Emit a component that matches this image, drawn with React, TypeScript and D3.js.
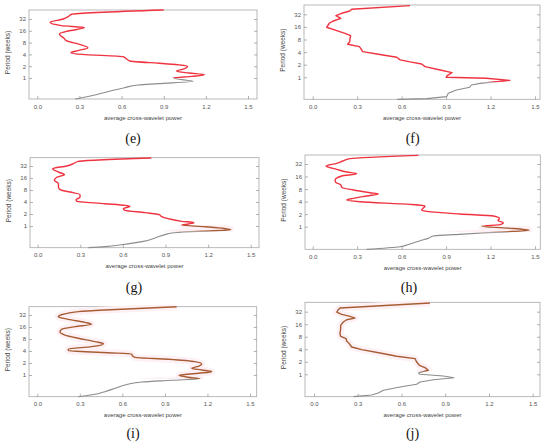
import React, { useEffect, useRef } from 'react';
import * as d3 from 'd3';

const RED = '#ef3340';
const BROWN = '#a85c33';
const GREY = '#8c8c8c';
const HALO = '#fdf1f5';

const periodTicks = [1, 2, 4, 8, 16, 32];
const powerTicks = [0, 0.3, 0.6, 0.9, 1.2, 1.5];
const xTitle = 'average cross-wavelet power';
const yTitle = 'Period (weeks)';

// log2 of the period in weeks, read top to bottom, with the power at each
const logPeriodE = [5.76, 5.4, 5.2, 5.0, 4.72, 4.44, 4.27, 3.98, 3.73, 3.36, 3.14, 2.85, 2.57, 2.32, 2.15, 2.0, 1.81, 1.67, 1.44, 1.21, 0.99, 0.76, 0.59, 0.42, 0.28, 0.14, 0.0, -0.14, -0.28, -0.48, -0.59, -0.82, -1.1, -1.44, -1.78];
const powerE = [0.9, 0.245, 0.22, 0.185, 0.09, 0.17, 0.335, 0.22, 0.157, 0.19, 0.21, 0.3, 0.36, 0.29, 0.24, 0.32, 0.61, 0.63, 0.66, 0.91, 1.07, 1.04, 0.99, 1.08, 1.19, 1.1, 0.97, 1.03, 1.11, 0.86, 0.72, 0.62, 0.52, 0.41, 0.27];

const logPeriodF = [5.69, 5.4, 5.26, 5.08, 4.89, 4.68, 4.47, 4.29, 3.97, 3.7, 3.49, 3.31, 3.1, 2.83, 2.62, 2.43, 2.25, 2.04, 1.83, 1.59, 1.38, 1.22, 1.06, 0.85, 0.58, 0.37, 0.16, 0.0, -0.08, -0.24, -0.37, -0.48, -0.61, -0.79, -1.01, -1.27, -1.53, -1.69, -1.75];
const powerF = [0.657, 0.263, 0.25, 0.196, 0.157, 0.189, 0.14, 0.112, 0.094, 0.162, 0.218, 0.256, 0.252, 0.25, 0.236, 0.315, 0.326, 0.337, 0.443, 0.567, 0.59, 0.657, 0.735, 0.758, 0.86, 0.94, 0.91, 0.9, 1.17, 1.33, 1.22, 1.13, 1.07, 1.06, 0.97, 0.915, 0.904, 0.77, 0.57];

const logPeriodG = [5.67, 5.39, 5.19, 5.0, 4.78, 4.5, 4.28, 4.06, 3.81, 3.53, 3.25, 3.03, 2.83, 2.61, 2.39, 2.19, 2.06, 1.86, 1.72, 1.64, 1.44, 1.31, 1.11, 0.94, 0.81, 0.61, 0.39, 0.28, 0.17, 0.08, -0.06, -0.31, -0.44, -0.58, -0.72, -1.0, -1.28, -1.56, -1.72, -1.8];
const powerG = [0.8, 0.286, 0.251, 0.204, 0.106, 0.146, 0.188, 0.134, 0.117, 0.146, 0.146, 0.157, 0.228, 0.298, 0.298, 0.27, 0.275, 0.474, 0.615, 0.65, 0.603, 0.615, 0.756, 0.857, 0.87, 0.92, 1.014, 1.1, 1.06, 1.014, 1.18, 1.36, 1.155, 0.944, 0.897, 0.826, 0.744, 0.59, 0.474, 0.357];

const logPeriodH = [5.69, 5.43, 5.24, 5.05, 4.84, 4.57, 4.36, 4.23, 4.04, 3.72, 3.51, 3.35, 3.14, 2.93, 2.71, 2.61, 2.45, 2.26, 2.13, 1.99, 1.78, 1.65, 1.49, 1.33, 1.2, 1.01, 0.85, 0.66, 0.48, 0.32, 0.16, 0.03, -0.11, -0.29, -0.43, -0.59, -0.74, -0.93, -1.12, -1.38, -1.6, -1.81];
const powerH = [0.713, 0.252, 0.202, 0.162, 0.09, 0.162, 0.23, 0.297, 0.196, 0.151, 0.157, 0.189, 0.196, 0.274, 0.387, 0.443, 0.364, 0.274, 0.23, 0.319, 0.657, 0.758, 0.747, 0.735, 0.78, 0.994, 1.22, 1.26, 1.25, 1.286, 1.264, 1.14, 1.31, 1.46, 1.264, 1.016, 0.814, 0.78, 0.724, 0.657, 0.589, 0.364];

const logPeriodI = [5.69, 5.42, 5.28, 5.06, 4.86, 4.64, 4.39, 4.22, 4.03, 3.81, 3.58, 3.33, 3.06, 2.78, 2.61, 2.36, 2.17, 2.03, 1.86, 1.75, 1.61, 1.47, 1.31, 1.11, 0.92, 0.72, 0.56, 0.42, 0.28, 0.14, -0.03, -0.19, -0.31, -0.44, -0.58, -0.83, -1.11, -1.39, -1.61, -1.81];
const powerI = [0.983, 0.477, 0.289, 0.183, 0.148, 0.219, 0.336, 0.383, 0.266, 0.172, 0.16, 0.195, 0.289, 0.407, 0.466, 0.383, 0.219, 0.219, 0.501, 0.665, 0.67, 0.689, 0.924, 1.112, 1.159, 1.135, 1.089, 1.159, 1.23, 1.135, 0.999, 1.065, 1.147, 0.948, 0.736, 0.618, 0.548, 0.477, 0.407, 0.289];

const logPeriodJ = [5.69, 5.43, 5.29, 5.16, 4.97, 4.79, 4.63, 4.49, 4.36, 4.18, 3.91, 3.64, 3.24, 3.03, 2.85, 2.66, 2.45, 2.18, 1.97, 1.7, 1.44, 1.25, 0.98, 0.72, 0.53, 0.32, 0.11, 0.0, -0.13, -0.27, -0.43, -0.61, -0.8, -1.01, -1.28, -1.49, -1.65, -1.78];
const powerJ = [0.796, 0.396, 0.178, 0.167, 0.156, 0.19, 0.247, 0.281, 0.224, 0.201, 0.183, 0.183, 0.178, 0.183, 0.22, 0.224, 0.242, 0.258, 0.327, 0.453, 0.567, 0.693, 0.704, 0.723, 0.761, 0.784, 0.716, 0.727, 0.887, 0.96, 0.819, 0.727, 0.704, 0.59, 0.476, 0.441, 0.396, 0.27];

// colour bands: colour used from the previous break down to this log2 period
const bandsE: [number, string][] = [[-0.02, RED], [-9, GREY]];
const bandsF: [number, string][] = [[-0.4, RED], [-9, GREY]];
const bandsG: [number, string][] = [[0.08, RED], [-0.45, BROWN], [-9, GREY]];
const bandsH: [number, string][] = [[0.03, RED], [-0.45, BROWN], [-9, GREY]];
const bandsI: [number, string][] = [[-0.33, BROWN], [-9, GREY]];
const bandsJ: [number, string][] = [[0.2, BROWN], [-9, GREY]];

const panels = [
  { id: 'e', logP: logPeriodE, power: powerE, bands: bandsE, smooth: true, box: [29, 10, 257, 99], xPx: [37.3, 248], yPx: [78, 19], lab: [133, 143] },
  { id: 'f', logP: logPeriodF, power: powerF, bands: bandsF, smooth: false, box: [304, 5, 540, 99.3], xPx: [312.7, 535], yPx: [77.3, 14.3], lab: [412.7, 143] },
  { id: 'g', logP: logPeriodG, power: powerG, bands: bandsG, smooth: true, box: [30, 157.7, 259, 247.7], xPx: [37.7, 250.7], yPx: [226, 166], lab: [134, 292] },
  { id: 'h', logP: logPeriodH, power: powerH, bands: bandsH, smooth: true, box: [305, 155, 540.3, 249.3], xPx: [312.7, 535], yPx: [226.7, 164], lab: [409, 292] },
  { id: 'i', logP: logPeriodI, power: powerI, bands: bandsI, smooth: true, box: [29, 306.7, 256.7, 396.7], xPx: [37.3, 250], yPx: [375, 315], lab: [133, 438] },
  { id: 'j', logP: logPeriodJ, power: powerJ, bands: bandsJ, smooth: false, box: [305, 302.3, 540, 396.7], xPx: [314, 532.7], yPx: [374.3, 311.7], lab: [412.5, 438] },
];

const sans = '"Liberation Sans", Arial, sans-serif';

export default function App() {
  const svgRef = useRef<SVGSVGElement>(null);

  useEffect(() => {
    if (!svgRef.current) return;
    const svg = d3.select(svgRef.current).html('');
    const defs = svg.append('defs');

    panels.forEach(p => {
      const [bx0, by0, bx1, by1] = p.box;
      const x = d3.scaleLinear().domain([0, 1.5]).range(p.xPx);
      const y = d3.scaleLinear().domain([0, 5]).range(p.yPx);
      const g = svg.append('g');

      g.append('rect').attr('x', bx0).attr('y', by0).attr('width', bx1 - bx0).attr('height', by1 - by0)
        .attr('fill', '#fff').attr('stroke', '#a8a8a8').attr('stroke-width', 0.8);

      const yVals = periodTicks.map(Math.log2);
      const gl = g.append('g').attr('transform', `translate(${bx0},0)`)
        .call(d3.axisLeft(y).tickValues(yVals).tickFormat((_, i) => String(periodTicks[i])).tickSizeInner(-3).tickSizeOuter(0).tickPadding(3));
      const gr = g.append('g').attr('transform', `translate(${bx1},0)`)
        .call(d3.axisRight(y).tickValues(yVals).tickFormat(() => '').tickSizeInner(-3).tickSizeOuter(0));
      const gb = g.append('g').attr('transform', `translate(0,${by1})`)
        .call(d3.axisBottom(x).tickValues(powerTicks).tickFormat(d3.format('.1f')).tickSizeInner(-3).tickSizeOuter(0).tickPadding(5.5));

      [gl, gr, gb].forEach(a => {
        a.select('.domain').remove();
        a.selectAll('.tick line').attr('stroke', '#909090').attr('stroke-width', 0.7);
        a.selectAll('.tick text').attr('fill', '#555').attr('font-size', '6px').attr('font-family', sans);
      });

      g.append('text').attr('x', (bx0 + bx1) / 2).attr('y', by1 + 20.5).attr('text-anchor', 'middle')
        .attr('font-size', '6px').attr('font-family', sans).attr('fill', '#444').text(xTitle);
      g.append('text').attr('transform', `translate(${bx0 - 19.5},${(by0 + by1) / 2 - 2}) rotate(-90)`).attr('text-anchor', 'middle')
        .attr('font-size', '6.5px').attr('font-family', sans).attr('fill', '#444').text(yTitle);

      const line = d3.line<number>()
        .x((_, i) => x(p.power[i]))
        .y(d => y(d))
        .curve(p.smooth ? d3.curveMonotoneY : d3.curveLinear);
      const pathD = line(p.logP) || '';

      let upper = 9;
      p.bands.forEach(([lower, color], bi) => {
        const cid = `clip-${p.id}-${bi}`;
        const top = Math.max(by0 - 2, y(upper));
        const bottom = Math.min(by1 + 2, y(lower));
        defs.append('clipPath').attr('id', cid).append('rect')
          .attr('x', bx0).attr('y', top).attr('width', bx1 - bx0).attr('height', Math.max(0, bottom - top));
        if (color === BROWN) {
          g.append('path').attr('d', pathD).attr('clip-path', `url(#${cid})`).attr('fill', 'none')
            .attr('stroke', HALO).attr('stroke-width', 7).attr('stroke-linejoin', 'round');
        }
        g.append('path').attr('d', pathD).attr('clip-path', `url(#${cid})`).attr('fill', 'none')
          .attr('stroke', color).attr('stroke-width', color === GREY ? 1.1 : 1.4).attr('stroke-linejoin', 'round');
        upper = lower;
      });

      g.append('text').attr('x', p.lab[0]).attr('y', p.lab[1]).attr('text-anchor', 'middle')
        .attr('font-size', '14px').attr('font-family', '"Liberation Serif", "Times New Roman", serif')
        .attr('fill', '#111').text(`(${p.id})`);
    });
  }, []);

  return (
    <div style={{ position: 'absolute', left: 0, top: 0 }}>
      <svg ref={svgRef} width={550} height={446} style={{ display: 'block', background: '#fff' }}></svg>
    </div>
  );
}
